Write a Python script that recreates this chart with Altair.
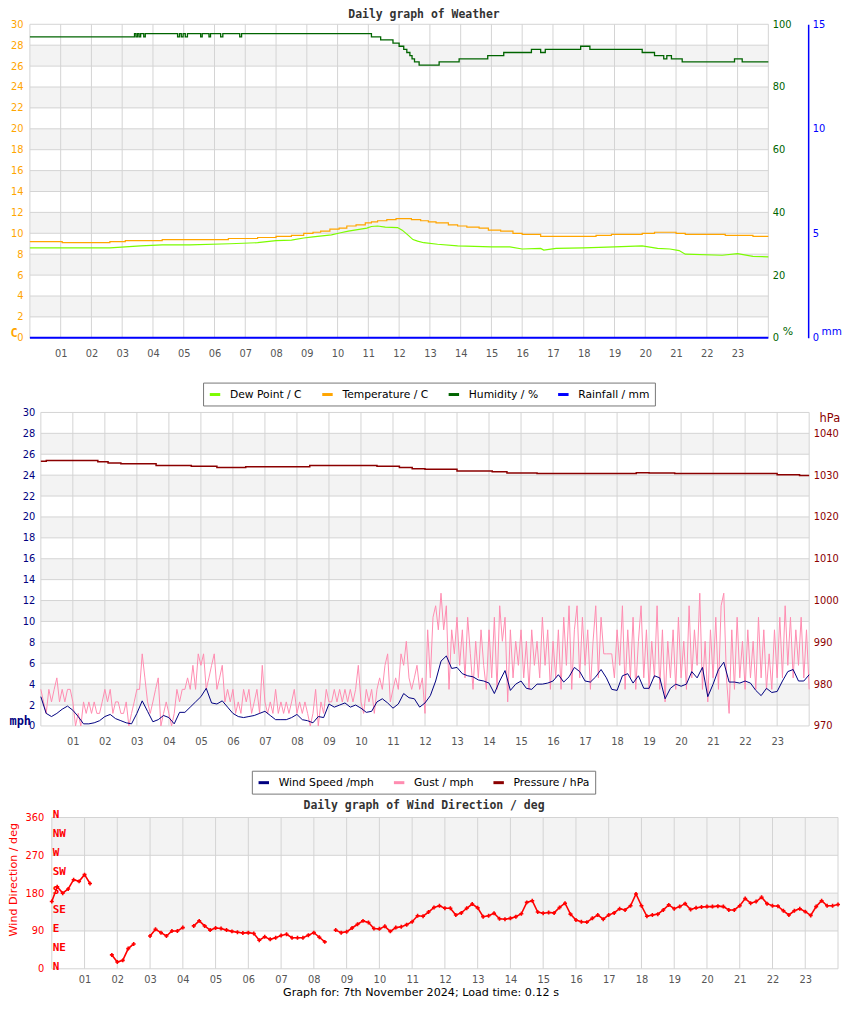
import altair as alt
import pandas as pd

# ---------------- data ----------------
hour_ticks = list(range(1, 24))
hour_grid = list(range(0, 25))
sample_hours = [i / 6 for i in range(145)]   # 10-minute readings
gust_hours = [i / 12 for i in range(289)]    # 5-minute gust readings

# Panel 1 : weather
temp_hours = [0.0, 1.05, 2.6, 3.1, 4.3, 6.45, 7.4, 8.0, 8.5, 8.9, 9.2, 9.45, 9.75, 10.05, 10.3,
              10.6, 10.9, 11.1, 11.3, 11.6, 11.9, 12.4, 12.7, 12.95, 13.2, 13.6, 13.9, 14.2, 14.6,
              14.9, 15.3, 15.7, 16.0, 16.6, 18.4, 18.9, 19.9, 20.3, 21.0, 21.3, 22.6, 23.5, 24.0]
temp_vals = [9.2, 9.1, 9.2, 9.3, 9.4, 9.5, 9.6, 9.7, 9.8, 10.0, 10.1, 10.2, 10.4, 10.5, 10.7,
             10.8, 11.0, 11.1, 11.2, 11.3, 11.4, 11.3, 11.2, 11.1, 11.0, 10.8, 10.7, 10.6, 10.5,
             10.3, 10.2, 10.0, 9.9, 9.7, 9.8, 9.9, 10.0, 10.1, 10.0, 9.9, 9.8, 9.7, 9.7]

dew_hours = [0.0, 2.6, 3.1, 3.6, 4.3, 5.2, 6.5, 7.4, 8.0, 8.5, 8.9, 9.2, 9.5, 9.8, 10.1, 10.35,
             10.65, 10.95, 11.1, 11.3, 11.55, 11.95, 12.1, 12.3, 12.45, 12.6, 12.8, 13.25, 13.9,
             15.0, 15.6, 16.0, 16.6, 16.7, 17.1, 18.0, 19.0, 19.9, 20.4, 20.8, 21.1, 21.3, 22.5,
             23.0, 23.5, 24.0]
dew_vals = [8.6, 8.6, 8.7, 8.8, 8.9, 8.9, 9.0, 9.1, 9.3, 9.35, 9.55, 9.65, 9.75, 9.85, 10.05,
            10.2, 10.35, 10.5, 10.65, 10.7, 10.6, 10.55, 10.3, 9.8, 9.4, 9.25, 9.1, 8.95, 8.8,
            8.7, 8.7, 8.5, 8.55, 8.4, 8.55, 8.6, 8.7, 8.8, 8.55, 8.5, 8.35, 8.0, 7.9, 8.05, 7.8,
            7.75]

hum_hours = [0.0, 3.40, 3.45, 3.50, 3.55, 3.60, 3.70, 3.75, 4.80, 4.86, 4.92, 4.98, 5.05, 5.12,
             5.55, 5.60, 5.82, 5.87, 6.20, 6.27, 6.82, 6.88, 11.10, 11.40, 11.80, 12.00, 12.15,
             12.25, 12.35, 12.42, 12.50, 12.65, 13.30, 13.95, 14.88, 15.40, 16.30, 16.60, 16.75,
             17.90, 18.20, 19.90, 20.30, 20.60, 20.70, 20.85, 21.20, 22.90, 23.15, 24.0]
hum_vals = [96, 97, 96, 97, 96, 97, 96, 97, 96, 97, 96, 97, 96, 97, 96, 97, 96, 97, 96, 97,
            96, 97, 96, 95, 94, 93, 92, 91, 90, 89, 88, 87, 88, 89, 90, 91, 92, 91, 92, 93,
            92, 91, 90, 89, 90, 89, 88, 89, 88, 88]

rain_hours = [0.0, 24.0]
rain_vals = [0.0, 0.0]

# Panel 2 : wind speed / gust / pressure
wind_speed = [
    2.8,
    1.2, 0.9, 1.2, 1.6, 1.9, 1.5,
    0.9, 0.2, 0.2, 0.3, 0.5, 0.9,
    1.1, 0.7, 0.5, 0.3, 0.2, 1.2,
    2.4, 1.4, 0.4, 0.6, 1.0, 0.8,
    0.2, 1.3, 1.3, 1.8, 2.3, 2.8,
    3.6, 2.2, 2.1, 2.4, 1.8, 1.2,
    0.9, 0.8, 0.9, 1.0, 1.2, 1.4,
    1.0, 0.6, 0.6, 0.6, 0.8, 1.1,
    0.6, 0.5, 0.3, 0.9, 0.8, 2.1,
    1.8, 2.0, 2.2, 1.8, 2.0, 1.7,
    1.3, 1.4, 2.3, 2.6, 2.2, 1.7,
    2.1, 3.1, 2.7, 2.6, 1.8, 2.2,
    2.9, 4.3, 6.2, 6.7, 5.5, 5.6,
    5.0, 4.8, 4.7, 4.4, 4.3, 4.1,
    3.1, 4.3, 5.3, 3.4, 4.0, 4.3,
    3.6, 3.5, 4.0, 4.0, 4.1, 4.3,
    4.9, 4.2, 4.7, 5.6, 5.2, 4.3,
    4.2, 4.7, 5.4, 4.6, 3.5, 3.4,
    4.8, 5.0, 4.1, 4.8, 3.6, 3.6,
    4.8, 4.6, 2.6, 3.6, 4.0, 3.8,
    4.0, 5.2, 4.6, 5.6, 2.8, 4.0,
    5.4, 6.1, 4.2, 4.2, 4.1, 4.3,
    4.1, 3.4, 2.9, 3.6, 3.2, 3.3,
    4.3, 5.2, 5.4, 4.3, 4.3, 4.9,
]
gust = [
    3.5,
    2.3, 1.2, 3.5, 2.3, 3.5, 4.6, 2.3, 3.5, 2.3, 3.5, 3.5, 2.3,
    0.0, 1.2, 0.0, 2.3, 1.2, 2.3, 1.2, 2.3, 1.2, 1.2, 2.3, 3.5,
    2.3, 3.5, 1.2, 2.3, 2.3, 1.2, 1.2, 2.3, 0.0, 1.2, 2.3, 3.5,
    3.5, 6.9, 4.6, 2.3, 1.2, 2.3, 3.5, 4.6, 0.0, 1.2, 2.3, 1.2,
    0.0, 1.2, 3.5, 2.3, 3.5, 3.5, 4.6, 3.5, 5.8, 3.5, 6.9, 5.8,
    6.9, 3.5, 4.6, 5.8, 6.9, 3.5, 4.6, 5.8, 2.3, 3.5, 2.3, 3.5,
    1.2, 2.3, 1.2, 3.5, 2.3, 3.5, 1.2, 2.3, 3.5, 1.2, 5.8, 2.3,
    1.2, 2.3, 1.2, 3.5, 1.2, 2.3, 1.2, 2.3, 1.2, 2.3, 3.5, 1.2,
    2.3, 1.2, 2.3, 1.2, 0.0, 1.2, 3.5, 0.0, 2.3, 1.2, 3.5, 2.3,
    2.3, 3.5, 2.3, 3.5, 2.3, 3.5, 2.3, 3.5, 2.3, 3.5, 5.8, 2.3,
    1.2, 3.5, 2.3, 3.5, 1.2, 3.5, 4.6, 3.5, 5.8, 6.9, 2.3, 3.5,
    4.6, 3.5, 6.9, 5.8, 8.1, 4.6, 3.5, 4.6, 5.8, 3.5, 4.6, 1.2,
    9.2, 4.6, 10.4, 11.5, 9.2, 12.7, 9.2, 11.5, 3.5, 9.2, 6.9, 10.4,
    5.8, 9.2, 4.6, 10.4, 6.9, 3.5, 8.1, 4.6, 9.2, 5.8, 3.5, 9.2,
    4.6, 10.4, 3.5, 11.5, 8.1, 10.4, 2.3, 9.2, 4.6, 8.1, 5.8, 9.2,
    4.6, 8.1, 3.5, 9.2, 5.8, 8.1, 4.6, 10.4, 5.8, 9.2, 3.5, 8.1,
    4.6, 9.2, 3.5, 10.4, 5.8, 11.5, 3.5, 9.2, 11.5, 4.6, 10.4, 5.8,
    9.2, 3.5, 8.1, 11.5, 4.6, 10.4, 6.9, 6.9, 6.9, 6.9, 4.6, 9.2,
    5.8, 11.5, 3.5, 9.2, 4.6, 10.4, 3.5, 8.1, 11.5, 4.6, 9.2, 3.5,
    8.1, 4.6, 11.5, 3.5, 9.2, 2.3, 8.1, 4.6, 9.2, 3.5, 10.4, 4.6,
    8.1, 3.5, 11.5, 4.6, 9.2, 5.8, 12.7, 3.5, 8.1, 2.3, 9.2, 4.6,
    10.4, 3.5, 11.5, 12.7, 4.6, 1.2, 9.2, 3.5, 10.4, 4.6, 8.1, 3.5,
    9.2, 4.6, 8.1, 3.5, 10.4, 4.6, 9.2, 3.5, 6.9, 3.5, 9.2, 4.6,
    10.4, 4.6, 11.5, 5.8, 10.4, 4.6, 9.2, 5.8, 10.4, 4.6, 9.2, 3.5,
]
pres_hours = [0.0, 0.17, 1.78, 2.1, 2.5, 3.6, 4.7, 5.5, 6.4, 8.4, 10.5, 11.2, 11.6, 12.0,
              13.0, 14.1, 14.56, 15.5, 18.6, 19.0, 19.8, 23.0, 23.7, 24.0]
pres_vals = [1033.3, 1033.5, 1033.2, 1032.9, 1032.7, 1032.3, 1032.1, 1031.8, 1032.0, 1032.3,
             1032.1, 1031.8, 1031.5, 1031.4, 1031.0, 1030.8, 1030.5, 1030.4, 1030.6, 1030.5,
             1030.4, 1030.1, 1029.9, 1029.9]

# Panel 3 : wind direction (None = no reading)
wind_dir = [
    160,
    195, 180, 190, 212, 208, 224,
    203, None, None, None, 33, 16,
    20, 48, 59, None, None, 78,
    94, 86, 78, 90, 90, 98,
    None, 102, 114, 102, 92, 97,
    96, 92, 89, 87, 85, 86,
    84, 68, 76, 70, 74, 79,
    82, 74, 74, 74, 80, 86,
    75, 64, None, 92, 86, 88,
    97, 106, 114, 110, 96, 95,
    101, 89, 98, 100, 105, 112,
    126, 125, 135, 146, 150, 144,
    144, 128, 133, 144, 154, 145,
    124, 126, 132, 119, 118, 120,
    124, 131, 158, 162, 135, 132,
    134, 133, 146, 156, 130, 116,
    112, 111, 120, 128, 118, 128,
    133, 143, 140, 150, 178, 150,
    125, 128, 130, 140, 152, 143,
    148, 155, 141, 145, 147, 148,
    148, 149, 148, 140, 140, 150,
    167, 156, 160, 170, 155, 150,
    149, 138, 128, 138, 143, 136,
    127, 148, 162, 150, 150, 153,
]
compass_names = ["N", "NE", "E", "SE", "S", "SW", "W", "NW", "N"]
compass_deg = [0, 45, 90, 135, 180, 225, 270, 315, 360]

w_series = ["Dew Point / C", "Temperature / C", "Humidity / %", "Rainfall / mm"]
w_colors = ["#7cfc00", "#ffa500", "#006400", "#0000ff"]
p_series = ["Wind Speed /mph", "Gust / mph", "Pressure / hPa"]
p_colors = ["#000080", "#ff8cb0", "#8b0000"]

temp_axis_vals = list(range(0, 31, 2))
hum_axis_vals = [0, 20, 40, 60, 80, 100]
rain_axis_vals = [0, 5, 10, 15]
pres_axis_vals = [970, 980, 990, 1000, 1010, 1020, 1030, 1040]
dir_axis_vals = [0, 90, 180, 270, 360]

band1_lo = [2, 6, 10, 14, 18, 22, 26]
band1_hi = [4, 8, 12, 16, 20, 24, 28]
band3_lo = [90, 270]
band3_hi = [180, 360]

# ---------------- styling ----------------
LAB = "DejaVu Sans Condensed, DejaVu Sans"
TXT = "DejaVu Sans"
MONO = "DejaVu Sans Mono"
BAND = "#f3f3f3"
GRID = "#d4d4d4"

# plot widths and their left shift relative to the top panel
W1, H1, S1 = 742, 315, 0
W2, H2, S2 = 772, 315, 11
W3, H3, S3 = 790, 152, 22


def xscale(shift, width):
    return alt.Scale(domain=[0, 24], range=[shift, shift + width], nice=False, zero=False)


def x_axis(pad, **kw):
    return alt.Axis(values=hour_ticks, labelExpr="(datum.value < 10 ? '0' : '') + datum.value",
                    grid=False, ticks=False, domain=False, labelColor="#555", labelFont=LAB,
                    labelFontSize=11, labelPadding=pad, labelOverlap=False, labelFlush=False, **kw)


def y_axis(vals, color, pad, orient, **kw):
    return alt.Axis(values=vals, orient=orient, grid=False, ticks=False, domain=False,
                    labelColor=color, labelFont=LAB, labelFontSize=11, labelPadding=pad,
                    labelOverlap=False, titleAngle=0, titleColor=color, format="d", **kw)


def legend(x, y, cols):
    return alt.Legend(title=None, orient="none", legendX=x, legendY=y, direction="horizontal",
                      columns=cols, symbolType="stroke", symbolSize=110, symbolStrokeWidth=3,
                      labelFont=TXT, labelFontSize=10.8, labelColor="#000", labelOffset=8,
                      columnPadding=13, padding=5, strokeColor="#777", fillColor="#ffffff",
                      labelLimit=300)


def frame(X, ax_x, Y, ax_y, lo, hi, gridvals, ymin, ymax):
    bands = alt.Chart(pd.DataFrame({"lo": lo, "hi": hi})).mark_rect(color=BAND).encode(
        x=alt.XDatum(0, scale=X, axis=ax_x), x2=alt.X2Datum(24),
        y=alt.Y("lo:Q", scale=Y, axis=ax_y), y2="hi:Q")
    hgrid = alt.Chart(pd.DataFrame({"v": gridvals})).mark_rule(color=GRID, strokeWidth=1).encode(
        x=alt.XDatum(0, scale=X, axis=ax_x), x2=alt.X2Datum(24),
        y=alt.Y("v:Q", scale=Y, axis=ax_y))
    vgrid = alt.Chart(pd.DataFrame({"h": hour_grid})).mark_rule(color=GRID, strokeWidth=1).encode(
        x=alt.X("h:Q", scale=X, axis=ax_x),
        y=alt.YDatum(ymin, scale=Y, axis=ax_y), y2=alt.Y2Datum(ymax))
    return [bands, hgrid, vgrid]


def title(text, dx):
    return alt.TitleParams(text, font=MONO, fontSize=11.5, fontWeight="bold", color="#333",
                           anchor="middle", frame="group", offset=-11, dx=dx,
                           baseline="alphabetic")


# ---------------- panel 1 ----------------
X1 = xscale(S1, W1)
ax_x1 = x_axis(10, title=None)
Y1 = alt.Scale(domain=[0, 30], nice=False, zero=False)
YH = alt.Scale(domain=[0, 100], nice=False, zero=False)
YR = alt.Scale(domain=[0, 15], nice=False, zero=False)
ax_t = y_axis(temp_axis_vals, "#ffa500", 7, "left", title="C", titleFont=MONO, titleFontSize=12,
              titleFontWeight="bold", titleAlign="left", titleBaseline="middle", titleX=-20, titleY=310)
ax_h = y_axis(hum_axis_vals, "#006400", 4, "right", title="%", titleFont=TXT, titleFontSize=11,
              titleFontWeight="normal", titleAlign="left", titleBaseline="middle", titleX=14, titleY=309)
ax_r = alt.Axis(values=rain_axis_vals, orient="right", offset=40, grid=False, ticks=False,
                domain=True, domainColor="#0000ff", domainWidth=1.5, labelColor="#0000ff",
                labelFont=LAB, labelFontSize=11, labelPadding=4, labelOverlap=False,
                title="mm", titleAngle=0, titleColor="#0000ff", titleFont=TXT, titleFontSize=10.5,
                titleFontWeight="normal", titleAlign="left", titleBaseline="middle", titleX=13, titleY=309)
C1 = alt.Scale(domain=w_series, range=w_colors)
leg1 = legend(174, 360, 4)


def w_line(hours, vals, name, Y, ax, interp, sw):
    df = pd.DataFrame({"h": hours, "v": vals, "s": [name] * len(hours)})
    return alt.Chart(df).mark_line(strokeWidth=sw, interpolate=interp).encode(
        x=alt.X("h:Q", scale=X1, axis=ax_x1), y=alt.Y("v:Q", scale=Y, axis=ax),
        color=alt.Color("s:N", scale=C1, legend=leg1))


temp_l = w_line(temp_hours, temp_vals, w_series[1], Y1, ax_t, "step-after", 1.2)
dew_l = w_line(dew_hours, dew_vals, w_series[0], Y1, ax_t, "linear", 1.2)
hum_l = w_line(hum_hours, hum_vals, w_series[2], YH, ax_h, "step-after", 1.3)
rain_l = w_line(rain_hours, rain_vals, w_series[3], YR, ax_r, "linear", 2)

P1 = alt.layer(
    alt.layer(*frame(X1, ax_x1, Y1, ax_t, band1_lo, band1_hi, temp_axis_vals, 0, 30), temp_l, dew_l),
    hum_l, rain_l,
).resolve_scale(y="independent").properties(
    width=S1 + W1, height=H1, title=title("Daily graph of Weather", 25))

# ---------------- panel 2 ----------------
X2 = xscale(S2, W2)
ax_x2 = x_axis(10, title=None)
Y2 = alt.Scale(domain=[0, 30], nice=False, zero=False)
YP = alt.Scale(domain=[970, 1045], nice=False, zero=False)
ax_m = y_axis(temp_axis_vals, "#000080", 6, "left", offset=-S2, title="mph", titleFont=MONO,
              titleFontSize=12, titleFontWeight="bold", titleAlign="left", titleBaseline="middle",
              titleX=-32, titleY=310)
ax_p = y_axis(pres_axis_vals, "#8b0000", 4, "right", title="hPa", titleFont=TXT, titleFontSize=11.5,
              titleFontWeight="normal", titleAlign="left", titleBaseline="middle", titleX=10, titleY=6)
C2 = alt.Scale(domain=p_series, range=p_colors)
leg2 = legend(223, 360, 3)


def p_line(hours, vals, name, Y, ax, interp, sw):
    df = pd.DataFrame({"h": hours, "v": vals, "s": [name] * len(hours)})
    return alt.Chart(df).mark_line(strokeWidth=sw, interpolate=interp).encode(
        x=alt.X("h:Q", scale=X2, axis=ax_x2), y=alt.Y("v:Q", scale=Y, axis=ax),
        color=alt.Color("s:N", scale=C2, legend=leg2))


gust_l = p_line(gust_hours, gust, p_series[1], Y2, ax_m, "linear", 1)
wind_l = p_line(sample_hours, wind_speed, p_series[0], Y2, ax_m, "linear", 1)
pres_l = p_line(pres_hours, pres_vals, p_series[2], YP, ax_p, "step-after", 1.5)

P2 = alt.layer(
    alt.layer(*frame(X2, ax_x2, Y2, ax_m, band1_lo, band1_hi, temp_axis_vals, 0, 30), gust_l, wind_l),
    pres_l,
).resolve_scale(y="independent").properties(width=S2 + W2, height=H2)

# ---------------- panel 3 ----------------
X3 = xscale(S3, W3)
ax_x3 = x_axis(5, title="Graph for: 7th November 2024; Load time: 0.12 s", titleFont=TXT,
               titleFontSize=11.2, titleFontWeight="normal", titleColor="#000", titleX=392.5,
               titleY=24, titleAlign="center", titleBaseline="middle")
Y3 = alt.Scale(domain=[0, 360], nice=False, zero=False)
ax_d = alt.Axis(values=dir_axis_vals, orient="left", offset=-S3, grid=False, ticks=False,
                domain=False, labelColor="#ff0000", labelFont=LAB, labelFontSize=11,
                labelPadding=8, labelOverlap=False, title="Wind Direction / deg",
                titleColor="#ff0000", titleFont=TXT, titleFontSize=11.2, titleFontWeight="normal",
                titleAngle=270, titleAlign="center", titleBaseline="middle", titleX=-38, titleY=62)

rows, seg = [], 0
for h, v in zip(sample_hours, wind_dir):
    if v is None:
        seg += 1
        continue
    rows.append({"h": h, "v": v, "seg": seg})
df_dir = pd.DataFrame(rows)

dir_line = alt.Chart(df_dir).mark_line(color="#ff0000", strokeWidth=1.6).encode(
    x=alt.X("h:Q", scale=X3, axis=ax_x3), y=alt.Y("v:Q", scale=Y3, axis=ax_d), detail="seg:N")
dir_pts = alt.Chart(df_dir).mark_point(shape="cross", filled=True, size=16, color="#ff0000",
                                       opacity=1).encode(
    x=alt.X("h:Q", scale=X3, axis=ax_x3), y=alt.Y("v:Q", scale=Y3, axis=ax_d))
compass = alt.Chart(pd.DataFrame({"deg": compass_deg, "name": compass_names})).mark_text(
    align="left", baseline="middle", dx=1, dy=-2, font=MONO, fontWeight="bold", fontSize=11,
    color="#ff0000").encode(
    x=alt.XDatum(0, scale=X3, axis=ax_x3), y=alt.Y("deg:Q", scale=Y3, axis=ax_d), text="name:N")

P3 = alt.layer(
    *frame(X3, ax_x3, Y3, ax_d, band3_lo, band3_hi, dir_axis_vals, 0, 360),
    dir_line, dir_pts, compass,
).properties(width=S3 + W3, height=H3, title=title("Daily graph of Wind Direction / deg", -10))


# ---------------- layout ----------------
def spacer(h):
    return alt.Chart(pd.DataFrame({"s": [0]})).mark_point(opacity=0, size=1).properties(width=1, height=h)


chart = alt.vconcat(
    P1, spacer(75), P2, spacer(92), P3, spacing=0, bounds="flush",
).resolve_scale(color="independent").properties(
    padding={"left": 0, "right": 0, "top": -2, "bottom": 0}
).configure_view(stroke=None)

chart.save("out.html", embed_options={"renderer": "svg", "actions": False})
